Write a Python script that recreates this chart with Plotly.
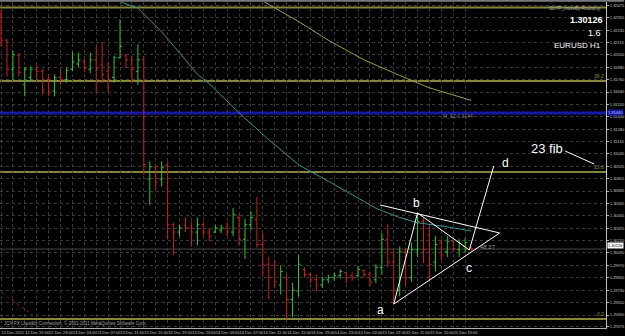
import plotly.graph_objects as go

# ---------------- data ----------------
bar_index = list(range(80))
open_ = [1.3239,1.3214,1.3186,1.3199,1.3171,1.3178,1.3186,1.3184,1.3176,1.3165,
         1.3178,1.3176,1.3186,1.3191,1.3193,1.3186,1.3195,1.3190,1.3184,1.3178,
         1.3197,1.3199,1.3195,1.3184,1.3195,1.3080,1.3091,1.3080,1.3093,1.3036,
         1.3029,1.3035,1.3033,1.3029,1.3036,1.3029,1.3029,1.3031,1.3033,1.3029,
         1.3043,1.3022,1.3036,1.3041,1.3017,1.2998,1.2997,1.2978,1.2985,1.2964,
         1.2972,1.2993,1.2988,1.2983,1.2978,1.2983,1.2985,1.2987,1.2990,1.2987,
         1.2987,1.2992,1.2988,1.2983,1.2995,1.3022,1.3000,1.2973,1.3010,1.2985,
         1.3012,1.3039,1.3026,1.3000,1.3019,1.3010,1.3020,1.3012,1.3015,1.3014]
high = [1.3243,1.3215,1.3204,1.3202,1.3188,1.3189,1.3190,1.3186,1.3180,1.3181,
        1.3185,1.3188,1.3203,1.3202,1.3196,1.3202,1.3209,1.3212,1.3193,1.3199,
        1.3234,1.3201,1.3199,1.3210,1.3199,1.3097,1.3094,1.3097,1.3097,1.3038,
        1.3036,1.3043,1.3039,1.3043,1.3039,1.3033,1.3036,1.3036,1.3038,1.3052,
        1.3046,1.3042,1.3049,1.3063,1.3028,1.3005,1.3002,1.2997,1.2988,1.2980,
        1.3007,1.2995,1.2990,1.2988,1.2986,1.2988,1.2990,1.2993,1.2991,1.2990,
        1.2996,1.2993,1.2991,1.2998,1.3028,1.3037,1.3012,1.3015,1.3014,1.3019,
        1.3048,1.3043,1.3036,1.3025,1.3022,1.3025,1.3022,1.3022,1.3023,1.3015]
low = [1.3208,1.3179,1.3176,1.3179,1.3160,1.3174,1.3176,1.3161,1.3160,1.3160,
       1.3171,1.3173,1.3184,1.3188,1.3183,1.3182,1.3163,1.3173,1.3164,1.3173,
       1.3197,1.3187,1.3173,1.3171,1.3084,1.3055,1.3070,1.3073,1.3022,1.3007,
       1.3025,1.3029,1.3015,1.3016,1.3025,1.3020,1.3028,1.3028,1.3025,1.3025,
       1.3016,1.3003,1.3031,1.3014,1.2986,1.2964,1.2975,1.2969,1.2945,1.2947,
       1.2967,1.2985,1.2980,1.2972,1.2975,1.2980,1.2982,1.2984,1.2980,1.2982,
       1.2985,1.2985,1.2977,1.2980,1.2988,1.2995,1.2960,1.2967,1.2978,1.2981,
       1.3005,1.2999,1.2981,1.2991,1.3002,1.3005,1.3010,1.3005,1.3009,1.3010]
close = [1.3214,1.3186,1.3200,1.3183,1.3186,1.3186,1.3184,1.3166,1.3165,1.3178,
         1.3176,1.3185,1.3193,1.3195,1.3187,1.3195,1.3187,1.3181,1.3176,1.3197,
         1.3208,1.3195,1.3186,1.3195,1.3094,1.3092,1.3077,1.3091,1.3036,1.3029,
         1.3033,1.3033,1.3029,1.3036,1.3029,1.3025,1.3033,1.3033,1.3029,1.3046,
         1.3022,1.3036,1.3043,1.3017,1.2998,1.2985,1.2981,1.2991,1.2964,1.2973,
         1.2998,1.2988,1.2983,1.2978,1.2983,1.2985,1.2987,1.2991,1.2985,1.2985,
         1.2993,1.2988,1.2981,1.2995,1.3022,1.3000,1.2973,1.3010,1.2985,1.3012,
         1.3039,1.3012,1.2998,1.3017,1.3007,1.3020,1.3013,1.3018,1.3019,1.30126]

time_labels = ["12 Dec 2011","12 Dec 19:00","12 Dec 23:00","13 Dec 03:00","13 Dec 07:00",
               "13 Dec 11:00","13 Dec 15:00","13 Dec 19:00","13 Dec 23:00","14 Dec 03:00",
               "14 Dec 07:00","14 Dec 11:00","14 Dec 15:00","14 Dec 19:00","14 Dec 23:00",
               "15 Dec 03:00","15 Dec 07:00","15 Dec 11:00","15 Dec 15:00","15 Dec 19:00"]

price_ticks = [1.32475,1.32355,1.32235,1.32115,1.32000,1.31880,1.31760,1.31640,1.31520,
               1.31400,1.31280,1.31165,1.31045,1.30925,1.30805,1.30685,1.30565,1.30445,
               1.30325,1.30210,1.30090,1.29970,1.29850,1.29730,1.29610,1.29490,1.29375]

teal_ma_idx = [15,19,23,27,31,33,35,40,45,50,55,60,63,67,70,75,79]
teal_ma = [1.3255,1.3253,1.3245,1.3222,1.3195,1.3181,1.3172,1.3144,1.3118,1.3094,
           1.3078,1.3062,1.3052,1.3043,1.3038,1.3034,1.3030]
olive_ma_idx = [43,50,55,61,67,72,79]
olive_ma = [1.3255,1.3232,1.3214,1.3195,1.3180,1.3168,1.3156]

fib_levels = [1.32455, 1.31746, 1.30869, 1.29452]
fib_names = ["", "38.2", "23.6", "0.0"]
pivot_level = 1.31438
pivot_name = "M_S1 1.3144"
bid = 1.30126

# drawn lines (bar index, price)
abcd_x = [66, 70, 78.7, 82.8]
abcd_y = [1.29596, 1.30474, 1.30117, 1.30927]
abcd_names = ["a", "b", "c", "d"]
upper_tl_x = [63.7, 83.8]
upper_tl_y = [1.30551, 1.30281]
lower_tl_x = [66, 83.8]
lower_tl_y = [1.29596, 1.30281]
fib_note_x = [94.8, 99.7]
fib_note_y = [1.31071, 1.30946]
red_dot_x = [0.17, 5.33]
red_dot_y = [1.29702, 1.29490]

# ---------------- figure ----------------
fig = go.Figure()

fig.add_trace(go.Ohlc(
    x=bar_index, open=open_, high=high, low=low, close=close,
    increasing=dict(line=dict(color="#30c830", width=1)),
    decreasing=dict(line=dict(color="#cc2020", width=1)),
    tickwidth=0.34, hoverinfo="skip", showlegend=False))

fig.add_trace(go.Scatter(x=teal_ma_idx, y=teal_ma, mode="lines",
                         line=dict(color="#3c9090", width=1), showlegend=False, hoverinfo="skip"))
fig.add_trace(go.Scatter(x=olive_ma_idx, y=olive_ma, mode="lines",
                         line=dict(color="#9c9c48", width=1), showlegend=False, hoverinfo="skip"))

# abcd pattern lines
fig.add_trace(go.Scatter(x=abcd_x, y=abcd_y, mode="lines",
                         line=dict(color="white", width=1), showlegend=False, hoverinfo="skip"))
fig.add_trace(go.Scatter(x=upper_tl_x, y=upper_tl_y, mode="lines",
                         line=dict(color="white", width=1), showlegend=False, hoverinfo="skip"))
fig.add_trace(go.Scatter(x=lower_tl_x, y=lower_tl_y, mode="lines",
                         line=dict(color="white", width=1), showlegend=False, hoverinfo="skip"))
fig.add_trace(go.Scatter(x=fib_note_x, y=fib_note_y, mode="lines",
                         line=dict(color="white", width=1), showlegend=False, hoverinfo="skip"))
fig.add_trace(go.Scatter(x=red_dot_x, y=red_dot_y, mode="lines",
                         line=dict(color="#8a1a1a", width=1, dash="dot"), showlegend=False, hoverinfo="skip"))

shapes = []
# bid line
shapes.append(dict(type="line", xref="paper", x0=0, x1=1, yref="y", y0=bid, y1=bid,
                   line=dict(color="#4a4a4a", width=1), layer="below"))
for lv in fib_levels:
    shapes.append(dict(type="line", xref="paper", x0=0, x1=1, yref="y", y0=lv, y1=lv,
                       line=dict(color="#85853c", width=2), layer="below"))
shapes.append(dict(type="line", xref="paper", x0=0, x1=1, yref="y", y0=pivot_level, y1=pivot_level,
                   line=dict(color="#1818a8", width=3), layer="below"))
# window border at top
shapes.append(dict(type="line", xref="paper", x0=0, x1=1.03, yref="paper", y0=1.004, y1=1.004,
                   line=dict(color="#7a7a7a", width=2)))

annotations = []
txtfont = "Liberation Sans, Arial, sans-serif"
for nm, xx, yy in zip(abcd_names, [63.7, 69.8, 78.7, 84.8],
                      [1.29539, 1.30570, 1.29943, 1.30956]):
    annotations.append(dict(x=xx, y=yy, xref="x", yref="y", text=nm, showarrow=False,
                            font=dict(color="white", size=12, family=txtfont)))
annotations.append(dict(x=91.8, y=1.31091, xref="x", yref="y", text="23 fib", showarrow=False,
                        font=dict(color="white", size=13, family=txtfont)))
annotations.append(dict(x=81.8, y=1.30146, xref="x", yref="y", text="48.27", showarrow=False,
                        font=dict(color="#9a9a9a", size=6, family=txtfont)))
annotations.append(dict(x=76.8, y=1.31409, xref="x", yref="y", text=pivot_name, showarrow=False,
                        font=dict(color="#7a7a7a", size=5, family=txtfont)))
for lv, nm in zip(fib_levels, fib_names):
    if nm:
        annotations.append(dict(x=1, y=lv, xref="paper", yref="y", text=nm, showarrow=False,
                                xanchor="right", yanchor="bottom",
                                font=dict(color="#8c8c40", size=5, family=txtfont)))
# right-axis price boxes
annotations.append(dict(x=1.001, y=bid, xref="paper", yref="y", text="1.30126", showarrow=False,
                        xanchor="left", yanchor="bottom", bgcolor="white", borderpad=0,
                        font=dict(color="black", size=4, family=txtfont)))
annotations.append(dict(x=1.001, y=pivot_level, xref="paper", yref="y", text="1.31440", showarrow=False,
                        xanchor="left", bgcolor="#1818a8", borderpad=0,
                        font=dict(color="#c0c0ff", size=4, family=txtfont)))
# info block top right
annotations.append(dict(x=0.995, y=0.995, xref="paper", yref="paper", text="SL/TP_moveBy-Round ◎",
                        showarrow=False, xanchor="right", yanchor="top",
                        font=dict(color="#b0b0b0", size=4.5, family=txtfont)))
annotations.append(dict(x=0.998, y=0.945, xref="paper", yref="paper", text="<b>1.30126</b>",
                        showarrow=False, xanchor="right", yanchor="middle",
                        font=dict(color="white", size=9, family=txtfont)))
annotations.append(dict(x=0.995, y=0.905, xref="paper", yref="paper", text="1.6",
                        showarrow=False, xanchor="right", yanchor="middle",
                        font=dict(color="white", size=9, family=txtfont)))
annotations.append(dict(x=0.995, y=0.868, xref="paper", yref="paper", text="EURUSD H1",
                        showarrow=False, xanchor="right", yanchor="middle",
                        font=dict(color="white", size=8, family=txtfont)))
annotations.append(dict(x=0.003, y=0.0, xref="paper", yref="paper",
                        text="JCN FX Liquidity Connection, © 2001-2011 MetaQuotes Software Corp.",
                        showarrow=False, xanchor="left", yanchor="bottom",
                        font=dict(color="#a0a0a0", size=4.5, family=txtfont)))

tickvals_x = [2 * k for k in range(40)]
ticktext_x = [time_labels[k // 2] if k % 2 == 0 else "" for k in range(40)]

fig.update_layout(
    width=625, height=336,
    margin=dict(l=0, r=14, t=2, b=8),
    paper_bgcolor="black", plot_bgcolor="black",
    shapes=shapes, annotations=annotations,
    showlegend=False,
    xaxis=dict(range=[-0.17, 101.67], rangeslider=dict(visible=False),
               tickmode="array", tickvals=tickvals_x, ticktext=ticktext_x,
               ticklabelposition="outside right", ticks="", tickangle=0,
               tickfont=dict(color="#c8c8c8", size=4, family=txtfont),
               showgrid=True, gridcolor="#3a3a3a", griddash="dot", gridwidth=1,
               showline=True, linecolor="#b0b0b0", linewidth=1, zeroline=False,
               mirror=False),
    yaxis=dict(range=[1.29365, 1.32508], side="right",
               tickmode="array", tickvals=price_ticks,
               ticktext=[f"{v:.5f}" for v in price_ticks], ticks="outside", ticklen=2,
               tickcolor="#b0b0b0",
               tickfont=dict(color="#c8c8c8", size=4, family=txtfont),
               showgrid=True, gridcolor="#3a3a3a", griddash="dot", gridwidth=1,
               showline=True, linecolor="#c0c0c0", linewidth=1, zeroline=False),
)

fig.write_html("out.html")
